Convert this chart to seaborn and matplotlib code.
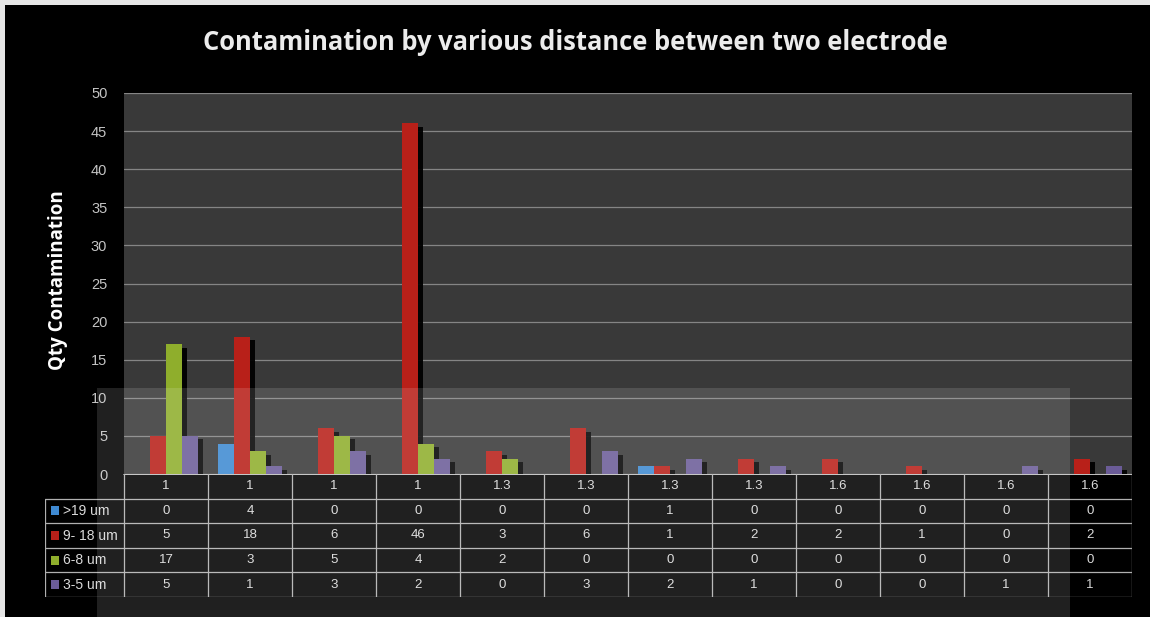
import numpy as np
import pandas as pd
import seaborn as sns
import matplotlib
matplotlib.use("Agg")
import matplotlib.pyplot as plt
from matplotlib import patheffects
from matplotlib.patches import Rectangle

# Distance between the two electrodes (one column per sample)
distance = ["1", "1", "1", "1", "1.3", "1.3", "1.3", "1.3", "1.6", "1.6", "1.6", "1.6"]
series = [">19 um", "9- 18 um", "6-8 um", "3-5 um"]
gt19 = [0, 4, 0, 0, 0, 0, 1, 0, 0, 0, 0, 0]
um9_18 = [5, 18, 6, 46, 3, 6, 1, 2, 2, 1, 0, 2]
um6_8 = [17, 3, 5, 4, 2, 0, 0, 0, 0, 0, 0, 0]
um3_5 = [5, 1, 3, 2, 0, 3, 2, 1, 0, 0, 1, 1]
colors = ["#3f8ad2", "#b82019", "#8fae2c", "#6b5c98"]

values = [gt19, um9_18, um6_8, um3_5]
rows = []
for name, vals in zip(series, values):
    for i, v in enumerate(vals):
        rows.append({"pos": i, "series": name, "qty": v})
df = pd.DataFrame(rows)

sns.set_theme(style="dark")
plt.rcParams["font.family"] = ["Liberation Sans", "DejaVu Sans"]

W, H = 1150, 617
fig = plt.figure(figsize=(W / 100, H / 100), dpi=100, facecolor="black")

ax_l, ax_r, ax_t, ax_b = 124, 1132, 93, 474
ax = fig.add_axes([ax_l / W, 1 - ax_b / H, (ax_r - ax_l) / W, (ax_b - ax_t) / H])
ax.set_facecolor("#393939")

sns.barplot(data=df, x="pos", y="qty", hue="series", hue_order=series,
            palette=colors, width=0.76, linewidth=0, saturation=1,
            legend=False, ax=ax, zorder=3)
shadow = [patheffects.SimplePatchShadow(offset=(3.5, -2.5), shadow_rgbFace="black", alpha=0.95),
          patheffects.Normal()]
for p in ax.patches:
    p.set_path_effects(shadow)

ax.set_xlim(-0.5, len(distance) - 0.5)
ax.set_ylim(0, 50)
ax.set_yticks(np.arange(0, 51, 5))
ax.set_yticklabels([str(v) for v in range(0, 51, 5)], color="#c4c4c4", fontsize=10.5)
ax.tick_params(axis="y", length=0, pad=12)
ax.set_xticks([])
ax.set_xlabel("")
ax.grid(axis="y", color="#858585", linewidth=0.9, zorder=0)
ax.set_axisbelow(True)
for s in ax.spines.values():
    s.set_visible(False)
ax.set_ylabel("Qty Contamination", color="white", fontsize=13.5, fontweight="bold",
              family=["Open Sans", "DejaVu Sans"])
ax.yaxis.set_label_coords(-0.056, 0.51)

# Data table under the plot area
tb_l, tb_b = 45, 597
head_w = (ax_l - tb_l) / ((ax_r - ax_l) / len(distance))
tab = fig.add_axes([tb_l / W, 1 - tb_b / H, (ax_r - tb_l) / W, (tb_b - ax_b) / H])
tab.set_facecolor("black")
x0 = -0.5 - head_w
tab.set_xlim(x0, len(distance) - 0.5)
tab.set_ylim(5, 0)
tab.axis("off")
line_kw = dict(color="#b0b0b0", linewidth=0.9)
tab.plot([-0.5, len(distance) - 0.5], [0, 0], color="#d4d4d4", linewidth=1.3)
for r in range(1, 6):
    tab.plot([x0, len(distance) - 0.5], [r, r], **line_kw)
for c in range(len(distance) + 1):
    tab.plot([c - 0.5, c - 0.5], [0, 5], **line_kw)
tab.plot([x0, x0], [1, 5], **line_kw)

txt_kw = dict(color="#dadada", fontsize=9.5, ha="center", va="center")
for i, lab in enumerate(distance):
    tab.text(i, 0.5, lab, **txt_kw)
for r, (name, vals, col) in enumerate(zip(series, values, colors), start=1):
    for i, v in enumerate(vals):
        tab.text(i, r + 0.5, str(v), **txt_kw)
    tab.add_patch(Rectangle((x0 + 0.07, r + 0.32), 0.1, 0.36, facecolor=col,
                            edgecolor="none"))
    tab.text(x0 + 0.21, r + 0.5, name, color="#dadada", fontsize=10,
             ha="left", va="center")

fig.text(0.5, 1 - 43 / H, "Contamination by various distance between two electrode",
         color="#ececec", fontsize=18.4, fontweight="bold", ha="center", va="center",
         family=["Open Sans", "DejaVu Sans"])

# Light translucent band over the lower part of the page
fig.add_artist(Rectangle((97 / W, 0), (1070 - 97) / W, (H - 388) / H,
                         transform=fig.transFigure, facecolor="white", alpha=0.13,
                         edgecolor="none", zorder=10))
# Pale paper edge at the top and left
fig.add_artist(Rectangle((0, 1 - 5 / H), 1, 5 / H, transform=fig.transFigure,
                         facecolor="#e6e6e6", edgecolor="none", zorder=11))
fig.add_artist(Rectangle((0, 0), 5 / W, 1, transform=fig.transFigure,
                         facecolor="#e6e6e6", edgecolor="none", zorder=11))

fig.savefig("out.png", dpi=100, facecolor="black")
